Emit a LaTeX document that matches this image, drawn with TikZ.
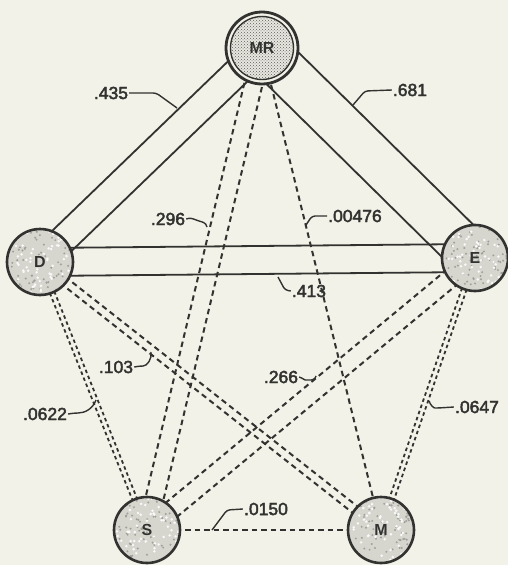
\documentclass[tikz,border=0pt]{standalone}
\usepackage{fontspec}
\setmainfont{Liberation Sans}
\newfontfamily\numfont{Liberation Sans}[FakeBold=2.5]
\usetikzlibrary{calc,patterns}
\pgfdeclarelayer{back}
\pgfdeclarelayer{links}
\pgfsetlayers{back,links,main}
\definecolor{paper}{RGB}{243,242,232}
\definecolor{ink}{RGB}{50,50,48}
\definecolor{blob}{RGB}{214,213,206}
\definecolor{speck}{RGB}{160,160,154}
\definecolor{hubfill}{RGB}{232,231,224}
\tikzset{
  station/.style={circle, draw=ink, line width=2.6pt, fill=blob, minimum size=66pt, inner sep=0pt, text=ink, font=\fontsize{16}{16}\selectfont\bfseries,
    path picture={
      \foreach \k in {1,...,90}{\fill[speck] ($(path picture bounding box.center)+(rnd*68-34,rnd*68-34)$) circle[radius=1.1pt];}
      \foreach \k in {1,...,70}{\fill[white!85!blob] ($(path picture bounding box.center)+(rnd*68-34,rnd*68-34)$) circle[radius=1.4pt];}
    }},
  hub/.style={circle, draw=ink, line width=2.8pt, fill=paper, minimum size=72pt, inner sep=0pt, text=ink, font=\fontsize{16}{16}\selectfont\bfseries,
    path picture={\filldraw[fill=hubfill, draw=ink, line width=1.4pt] (path picture bounding box.center) circle[radius=31.5pt];
                  \fill[pattern=crosshatch dots, pattern color=ink!80] (path picture bounding box.center) circle[radius=30.5pt];}},
  band/.style={draw=ink, line width=1.8pt},
  dl/.style={draw=ink, line width=2pt, dash pattern=on 5.5pt off 4pt},
  dd/.style={draw=ink, line width=1.8pt, dash pattern=on 3.5pt off 3pt},
  num/.style={inner sep=1pt, text=ink, font=\numfont\fontsize{17.5}{17.5}\selectfont},
  leader/.style={draw=ink, line width=1.4pt, rounded corners=3pt},
}
\begin{document}
\pgfmathsetseed{17}
\begin{tikzpicture}[x=1pt,y=-1pt]
\path[use as bounding box] (0,0) rectangle (508,565);
\begin{pgfonlayer}{back}
\fill[paper] (0,0) rectangle (508,565);
\end{pgfonlayer}

% nodes
\node[hub] (MR) at (262,48) {MR};
\node[station] (D) at (40,262) {D};
\node[station] (E) at (475,258) {E};
\node[station] (S) at (147,530) {S};
\node[station] (M) at (381,530) {M};

\begin{pgfonlayer}{links}
% solid bands
\draw[band] ($(MR.center)!14pt!90:(D.center)$) -- ($(D.center)!14pt!-90:(MR.center)$);
\draw[band] ($(MR.center)!14pt!-90:(D.center)$) -- ($(D.center)!14pt!90:(MR.center)$);
\draw[band] ($(MR.center)!22.5pt!90:(E.center)$) -- ($(E.center)!22.5pt!-90:(MR.center)$);
\draw[band] ($(MR.center)!22.5pt!-90:(E.center)$) -- ($(E.center)!22.5pt!90:(MR.center)$);
\draw[band] ($(D.center)!14pt!90:(E.center)$) -- ($(E.center)!14pt!-90:(D.center)$);
\draw[band] ($(D.center)!14pt!-90:(E.center)$) -- ($(E.center)!14pt!90:(D.center)$);
% wide dashed pairs
\draw[dl] ($(MR.center)!9pt!90:(S.center)$) -- ($(S.center)!9pt!-90:(MR.center)$);
\draw[dl] ($(MR.center)!9pt!-90:(S.center)$) -- ($(S.center)!9pt!90:(MR.center)$);
\draw[dl] ($(E.center)!9pt!90:(S.center)$) -- ($(S.center)!9pt!-90:(E.center)$);
\draw[dl] ($(E.center)!9pt!-90:(S.center)$) -- ($(S.center)!9pt!90:(E.center)$);
\draw[dl] ($(D.center)!4pt!90:(M.center)$) -- ($(M.center)!4pt!-90:(D.center)$);
\draw[dl] ($(D.center)!4pt!-90:(M.center)$) -- ($(M.center)!4pt!90:(D.center)$);
% close dashed pairs
\draw[dd] ($(D.center)!2.4pt!90:(S.center)$) -- ($(S.center)!2.4pt!-90:(D.center)$);
\draw[dd] ($(D.center)!2.4pt!-90:(S.center)$) -- ($(S.center)!2.4pt!90:(D.center)$);
\draw[dd] ($(E.center)!2.4pt!90:(M.center)$) -- ($(M.center)!2.4pt!-90:(E.center)$);
\draw[dd] ($(E.center)!2.4pt!-90:(M.center)$) -- ($(M.center)!2.4pt!90:(E.center)$);
% single dashed
\draw[dl] (MR.center) -- (M.center);
\draw[dl] (S.center) -- (M.center);
\end{pgfonlayer}

% labels and leaders
\node[num] (L435) at (111,93) {.435};
\coordinate (p435) at (177,108);
\draw[leader] (L435.east) -- ++(27,0) -- (p435);

\node[num] (L681) at (410,90) {.681};
\coordinate (p681) at (353,105);
\draw[leader] (p681) -- ++(12,-14) -- (L681.west);

\node[num] (L296) at (168,219) {.296};
\coordinate (p296) at (207,227);
\draw[leader] (L296.east) to[out=20,in=160] ++(10,1) to[out=-20,in=100] (p296);

\node[num] (L476) at (355,216) {.00476};
\coordinate (p476) at (306,225);
\draw[leader] (p476) -- ++(6,-9) -- (L476.west);

\node[num] (L413) at (309,291) {.413};
\coordinate (p413) at (278,277);
\draw[leader] (p413) -- ++(7,13) -- (L413.west);

\node[num] (L103) at (116,367) {.103};
\coordinate (p103) at (151,352);
\draw[leader] (L103.east) -- ++(6,-1) to[out=0,in=-80] (p103);

\node[num] (L266) at (281,377) {.266};
\coordinate (p266) at (316,376);
\draw[leader] (L266.east) to[out=-20,in=180] ++(9,3) to[out=0,in=-100] (p266);

\node[num] (L0622) at (45,414) {.0622};
\coordinate (p0622) at (96,400);
\draw[leader] (L0622.east) -- ++(7,-1) to[out=0,in=-110] (p0622);

\node[num] (L0647) at (477,407) {.0647};
\coordinate (p0647) at (429,401);
\draw[leader] (p0647) to[out=-70,in=180] ++(9,7) -- (L0647.west);

\node[num] (L0150) at (266,509) {.0150};
\coordinate (p0150) at (212,530);
\draw[leader] (p0150) -- ++(15,-20) -- (L0150.west);
\end{tikzpicture}
\end{document}
